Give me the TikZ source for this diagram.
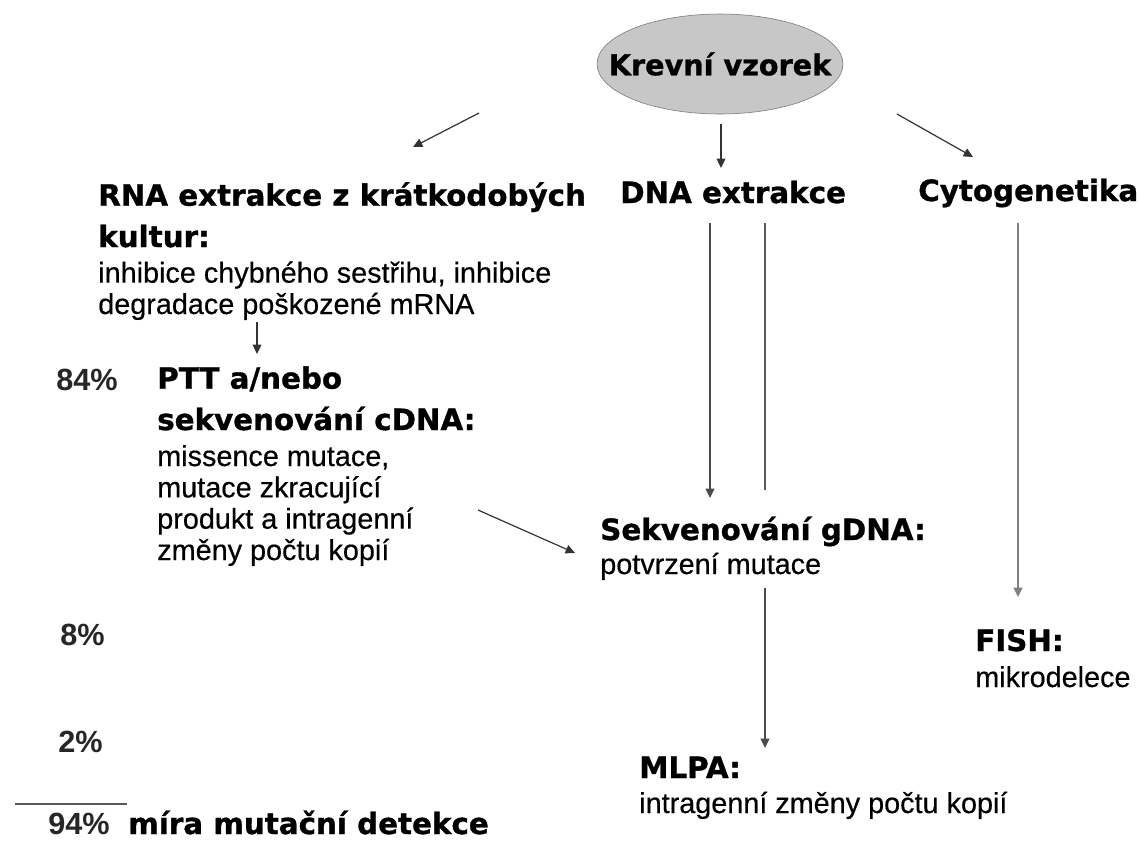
\documentclass[tikz,border=0pt]{standalone}
\usepackage{fontspec}
\setmainfont{Liberation Sans}[UprightFeatures={FakeBold=0.4}]
\newfontfamily\headfont{DejaVu Sans}[BoldFeatures={FakeBold=1}]
\usetikzlibrary{arrows.meta,shapes.geometric}

\begin{document}
\begin{tikzpicture}[x=0.75pt, y=-0.75pt,
        head/.style={anchor=base west, align=left, inner sep=0pt,
            font=\headfont\bfseries\fontsize{22pt}{31pt}\selectfont},
        body/.style={anchor=base west, align=left, inner sep=0pt,
            font=\fontsize{21.6pt}{23.5pt}\selectfont},
        pct/.style={anchor=base west, inner sep=0pt, text=black!85,
            font=\bfseries\fontsize{23pt}{27pt}\selectfont},
        arr/.style={draw=black!80, line width=0.9pt, -{Triangle[length=7pt,width=6.5pt]}},
        bar/.style={draw=black!65, line width=1.1pt}]
    \useasboundingbox (0,0) rectangle (1138,840);

    \node[ellipse, draw=black!55, fill=black!22, inner sep=0pt,
        minimum width=184.5pt, minimum height=75pt] (krev) at (720,64)
        {\makebox[0pt]{\headfont\bfseries\fontsize{21.5pt}{24pt}\selectfont Krevní vzorek}};

    \node[head] (rna) at (98,247) {RNA extrakce z krátkodobých\\kultur:};
    \node[body] (rnab) at (98,314) {inhibice chybného sestřihu, inhibice\\degradace poškozené mRNA};
    \node[head] (dna) at (620,203) {DNA extrakce};
    \node[head] (cyto) at (918,201) {Cytogenetika};

    \node[pct] (p84) at (56,390) {84\%};
    \node[head] (ptt) at (157,430) {PTT a/nebo\\sekvenování cDNA:};
    \node[body] (pttb) at (157,560) {missence mutace,\\mutace zkracující\\produkt a intragenní\\změny počtu kopií};

    \node[head] (gdna) at (600,540) {Sekvenování gDNA:};
    \node[body] (gdnab) at (600,574) {potvrzení mutace};

    \node[pct] (p8) at (60,645) {8\%};
    \node[head] (fish) at (975,651) {FISH:};
    \node[body] (fishb) at (975,687) {mikrodelece};

    \node[pct] (p2) at (58,752) {2\%};
    \node[head] (mlpa) at (639,778) {MLPA:};
    \node[body] (mlpab) at (639,813) {intragenní změny počtu kopií};

    \node[pct] (p94) at (48,834) {94\%};
    \node[head] (mira) at (128,834) {míra mutační detekce};

    \coordinate (r1) at (479,113);
    \coordinate (r2) at (413,147);
    \coordinate (d1) at (721,124);
    \coordinate (d2) at (721,168);
    \coordinate (c1) at (897,114);
    \coordinate (c2) at (973,157);
    \coordinate (t1) at (257,322);
    \coordinate (t2) at (257,354);
    \coordinate (g1) at (710,223);
    \coordinate (g2) at (710,498);
    \coordinate (g3) at (765,223);
    \coordinate (g4) at (765,490);
    \coordinate (s1) at (478,510);
    \coordinate (s2) at (575,553);
    \coordinate (m1) at (765,588);
    \coordinate (m2) at (765,748);
    \coordinate (f1) at (1018,223);
    \coordinate (f2) at (1018,597);
    \coordinate (l1) at (15,804);
    \coordinate (l2) at (127,804);

    \draw[arr] (r1) -- (r2);
    \draw[arr] (d1) -- (d2);
    \draw[arr] (c1) -- (c2);
    \draw[arr] (t1) -- (t2);
    \draw[arr, draw=black!70, line width=1.1pt] (g1) -- (g2);
    \draw[bar] (g3) -- (g4);
    \draw[arr] (s1) -- (s2);
    \draw[arr, draw=black!70, line width=1.1pt] (m1) -- (m2);
    \draw[arr, draw=black!50, line width=1.6pt] (f1) -- (f2);
    \draw[bar] (l1) -- (l2);
\end{tikzpicture}
\end{document}
